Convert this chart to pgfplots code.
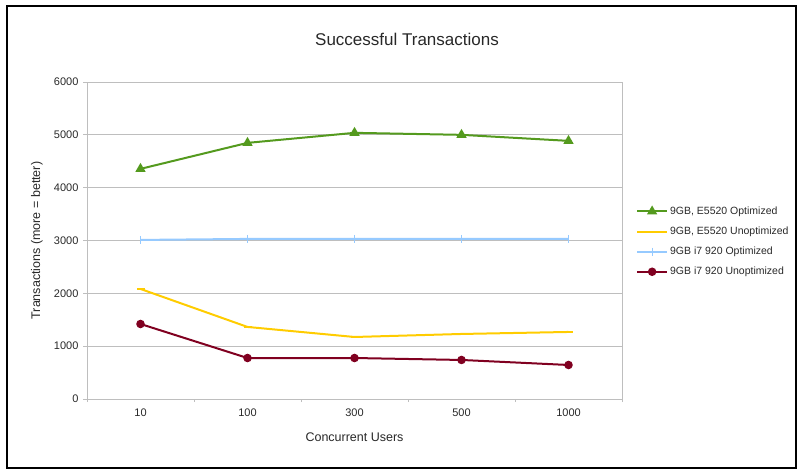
\documentclass[border=0pt]{standalone}
\usepackage{pgfplots}
\pgfplotsset{compat=1.18}
\usepackage{fontspec}
\setmainfont{Liberation Sans}
\definecolor{cgreen}{RGB}{84,154,30}
\definecolor{cyellow}{RGB}{255,204,0}
\definecolor{cblue}{RGB}{150,202,255}
\definecolor{cred}{RGB}{128,0,32}
\definecolor{cgrid}{RGB}{190,190,190}
\definecolor{ctext}{RGB}{40,40,40}
\begin{document}
\begin{tikzpicture}[x=1pt,y=1pt]
\path[use as bounding box] (0,0) rectangle (797,-469);
\draw[line width=2pt] (7,-6) rectangle (796,-468);
\node[font=\fontsize{17}{19}\selectfont, text=ctext] at (407,-39) {Successful Transactions};
\begin{axis}[
    at={(87pt,-399pt)}, anchor=south west,
    scale only axis,
    width=535pt, height=317pt,
    xmin=-0.5, xmax=4.5,
    ymin=0, ymax=6000,
    xtick={0,1,2,3,4},
    xticklabels={10,100,300,500,1000},
    minor xtick={-0.5,0.5,...,4.5},
    ytick={0,1000,...,6000},
    major x tick style={draw=none},
    minor tick length=3pt,
    major tick length=4pt,
    tick align=outside,
    tick pos=left,
    axis line style={cgrid, line width=0.8pt},
    tick style={cgrid, line width=0.8pt},
    ymajorgrids,
    grid style={cgrid, line width=0.8pt},
    /pgf/number format/assume math mode=true,
    /pgf/number format/1000 sep={},
    ticklabel style={font=\fontsize{11}{13}\selectfont, text=ctext},
    yticklabel style={xshift=-1pt},
    xticklabel style={yshift=-2pt},
    xlabel={Concurrent Users},
    ylabel={Transactions (more = better)},
    label style={font=\fontsize{12.5}{14}\selectfont, text=ctext},
    xlabel style={at={(0.5,0)}, anchor=center, yshift=-38pt},
    ylabel style={at={(0,0.5)}, anchor=center, yshift=50pt},
    legend style={at={(1.026,0.613)}, anchor=north west, draw=none, fill=none,
        font=\fontsize{10.5}{12}\selectfont, text=ctext, row sep=7pt, inner sep=0pt},
    legend cell align=left,
    legend image code/.code={
        \draw[#1, mark=none] (0pt,0pt) -- (30pt,0pt);
        \draw[#1] plot coordinates {(15pt,0pt)};
    },
    every axis plot/.append style={line width=2pt},
]
\addplot[cgreen, mark=triangle*, mark size=4pt, mark options={solid}] coordinates {
    (0,4356) (1,4848) (2,5038) (3,5000) (4,4886)};
\addlegendentry{9GB, E5520 Optimized}
\addplot[cyellow, mark=-, mark size=4pt] coordinates {
    (0,2083) (1,1364) (2,1174) (3,1231) (4,1269)};
\addlegendentry{9GB, E5520 Unoptimized}
\addplot[cblue, mark=|, mark size=4pt, mark options={line width=0.8pt}] coordinates {
    (0,3011) (1,3030) (2,3030) (3,3030) (4,3030)};
\addlegendentry{9GB i7 920 Optimized}
\addplot[cred, mark=*, mark size=3.2pt] coordinates {
    (0,1420) (1,776) (2,776) (3,739) (4,644)};
\addlegendentry{9GB i7 920 Unoptimized}
\end{axis}
\end{tikzpicture}
\end{document}
